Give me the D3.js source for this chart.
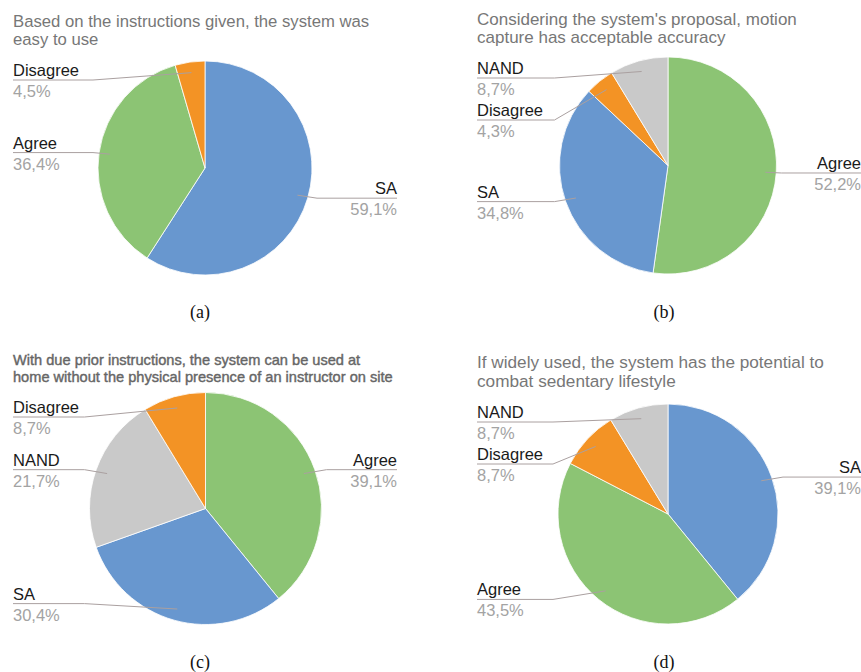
<!DOCTYPE html>
<html>
	<head>
		<title>Survey pies</title>
		<meta charset="utf-8">
	</head>
	<body>
		<svg id="chart" width="861" height="672"></svg>
	</body>

	<script src="https://d3js.org/d3.v7.min.js"></script>
	<script>
		// Data

		let titlesA = ["Based on the instructions given, the system was", "easy to use"];
		let catsA   = ["SA", "Agree", "Disagree"];
		let valsA   = [59.1, 36.4, 4.5];

		let titlesB = ["Considering the system's proposal, motion", "capture has acceptable accuracy"];
		let catsB   = ["Agree", "SA", "Disagree", "NAND"];
		let valsB   = [52.2, 34.8, 4.3, 8.7];

		let titlesC = ["With due prior instructions, the system can be used at", "home without the physical presence of an instructor on site"];
		let catsC   = ["Agree", "SA", "NAND", "Disagree"];
		let valsC   = [39.1, 30.4, 21.7, 8.7];

		let titlesD = ["If widely used, the system has the potential to", "combat sedentary lifestyle"];
		let catsD   = ["SA", "Agree", "Disagree", "NAND"];
		let valsD   = [39.1, 43.5, 8.7, 8.7];

		let captions = ["(a)", "(b)", "(c)", "(d)"];

		let color = d3.scaleOrdinal()
			.domain(["SA", "Agree", "Disagree", "NAND"])
			.range(["#6897cf", "#8cc474", "#f39325", "#c9c9c9"]);

		// layout for each panel (text margin, title baselines, pie centre/radius, caption)
		let panels = [
			{ titles: titlesA, cats: catsA, vals: valsA, x0: 13,  t0: 27,  tStep: 18, tSize: 16.7, tFill: "#777", tStroke: 0,   cx: 205,   cy: 168,   r: 107,   capX: 200, capY: 318 },
			{ titles: titlesB, cats: catsB, vals: valsB, x0: 477, t0: 25,  tStep: 18, tSize: 17,   tFill: "#777", tStroke: 0,   cx: 668,   cy: 165.5, r: 108.5, capX: 664, capY: 318 },
			{ titles: titlesC, cats: catsC, vals: valsC, x0: 13,  t0: 365, tStep: 17, tSize: 14.6, tFill: "#666", tStroke: 0.4, cx: 205.5, cy: 508.5, r: 116,   capX: 200, capY: 668 },
			{ titles: titlesD, cats: catsD, vals: valsD, x0: 477, t0: 368, tStep: 19, tSize: 17.2, tFill: "#777", tStroke: 0,   cx: 668,   cy: 514,   r: 110,   capX: 664, capY: 668 }
		];

		let svg = d3.select("#chart");
		let pct = (v) => d3.format(".1f")(v).replace(".", ",") + "%";

		panels.forEach((p, i) =>
		{
			let g = svg.append("g");

			g.selectAll(".title")
				.data(p.titles)
				.enter().append("text")
					.attr("class", "title")
					.attr("x", p.x0)
					.attr("y", (d, k) => p.t0 + k * p.tStep)
					.attr("font-size", p.tSize)
					.attr("fill", p.tFill)
					.attr("stroke", p.tFill)
					.attr("stroke-width", p.tStroke)
					.text(d => d);

			let data = p.cats.map((c, k) => ({ cat: c, value: p.vals[k] }));
			let arcs = d3.pie().sort(null).value(d => d.value)(data);
			let arc = d3.arc().innerRadius(0).outerRadius(p.r);

			let pie = g.append("g").attr("transform", `translate(${p.cx},${p.cy})`);
			pie.selectAll("path")
				.data(arcs)
				.enter().append("path")
					.attr("d", arc)
					.attr("fill", d => color(d.data.cat))
					.attr("stroke", "#fff")
					.attr("stroke-width", 0.8);

			// anchor points and label sides
			let labels = arcs.map(a =>
			{
				let m = (a.startAngle + a.endAngle) / 2;
				let px = p.cx + 0.9 * p.r * Math.sin(m);
				let py = p.cy - 0.9 * p.r * Math.cos(m);
				return { cat: a.data.cat, value: a.data.value, px: px, py: py, right: m < Math.PI, y: p.cy - p.r * Math.cos(m) };
			});

			let minY = p.t0 + p.tStep + 35;
			let maxY = p.cy + 0.82 * p.r;
			[true, false].forEach(side =>
			{
				let s = labels.filter(l => l.right === side).sort((a, b) => a.y - b.y);
				s.forEach((l, k) => { l.y = Math.max(l.y, minY, k ? s[k - 1].y + 42 : -1e9); });
				for (let k = s.length - 1; k >= 0; k--)
					s[k].y = Math.min(s[k].y, maxY, k < s.length - 1 ? s[k + 1].y - 42 : 1e9);
			});

			let right = p.x0 + 384;
			labels.forEach(l =>
			{
				let lx = l.right ? right : p.x0;
				let bx = l.right ? Math.max(l.px, p.cx + p.r + 5) : Math.min(l.px, p.cx - p.r - 5);
				g.append("path")
					.attr("class", "leader")
					.attr("d", d3.line()([[lx, l.y], [bx, l.y], [l.px, l.py]]));

				g.append("text")
					.attr("class", "lab")
					.attr("x", lx)
					.attr("y", l.y - 4)
					.attr("text-anchor", l.right ? "end" : "start")
					.text(l.cat);

				g.append("text")
					.attr("class", "pct")
					.attr("x", lx)
					.attr("y", l.y + 17)
					.attr("text-anchor", l.right ? "end" : "start")
					.text(pct(l.value));
			});

			g.append("text")
				.attr("class", "caption")
				.attr("x", p.capX)
				.attr("y", p.capY)
				.attr("text-anchor", "middle")
				.text(captions[i]);
		});
	</script>

	<style>
		html, body
		{
			margin: 0;
			background: #fff;
			overflow: hidden;
		}

		.title
		{
			font-family: "Liberation Sans", Arial, sans-serif;
		}

		.lab
		{
			font-family: "Liberation Sans", Arial, sans-serif;
			font-size: 16.5px;
			fill: #1a1a1a;
		}

		.pct
		{
			font-family: "Liberation Sans", Arial, sans-serif;
			font-size: 16.5px;
			fill: #a3a3a3;
		}

		.leader
		{
			fill: none;
			stroke: #aaa0a0;
			stroke-width: 1;
		}

		.caption
		{
			font-family: "Liberation Serif", "Times New Roman", serif;
			font-size: 18px;
			fill: #111;
		}
	</style>
</html>
